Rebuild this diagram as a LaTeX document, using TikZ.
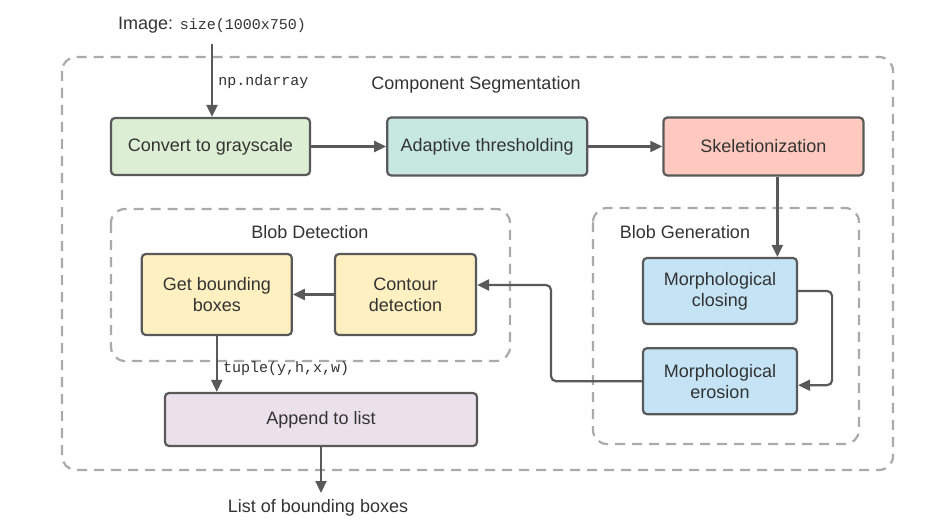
\documentclass[tikz,border=0pt]{standalone}
\usepackage{fontspec}
\setmainfont{Liberation Sans}
\setmonofont{Liberation Mono}
\usepackage{xcolor}
\usetikzlibrary{arrows.meta, positioning}

\definecolor{linegray}{HTML}{595959}
\definecolor{dashgray}{HTML}{AAAAAA}
\definecolor{txtgray}{HTML}{333333}
\definecolor{greenbox}{HTML}{DCEED3}
\definecolor{tealbox}{HTML}{C7E8E0}
\definecolor{redbox}{HTML}{FFC9BF}
\definecolor{yellowbox}{HTML}{FFF0C2}
\definecolor{bluebox}{HTML}{C4E3F4}
\definecolor{pinkbox}{HTML}{EBE1EB}

\begin{document}
\begin{tikzpicture}[
    x=1pt, y=-1pt,
    node distance=75pt,
    block/.style={rectangle, draw=linegray, line width=2.2pt, rounded corners=4pt, text=txtgray, font=\fontsize{18}{21}\selectfont, align=center, inner sep=0pt},
    group/.style={draw=dashgray, line width=2.2pt, dash pattern=on 10pt off 7pt, rounded corners=14pt},
    plaintext/.style={text=txtgray, font=\fontsize{18}{21}\selectfont},
    codetext/.style={text=txtgray, font=\ttfamily\fontsize{15}{17}\selectfont},
    arrow/.style={draw=linegray, line width=2.2pt, -{Triangle[length=12pt, width=11pt]}, rounded corners=5pt}
]
    \useasboundingbox (0,0) rectangle (943,524);

    % dashed groups
    \draw [group] (62,57) rectangle (893,470);
    \draw [group] (111,209) rectangle (510,361);
    \draw [group] (593,208) rectangle (859,444);

    \node (title) [plaintext] at (476,85) {Component Segmentation};
    \node (detlbl) [plaintext] at (310,232) {Blob Detection};
    \node (genlbl) [plaintext] at (685,232) {Blob Generation};

    % top row
    \node (conv) [block, fill=greenbox, minimum width=199pt, minimum height=57pt] at (210.5,146.5) {Convert to grayscale};
    \node (adapt) [block, fill=tealbox, minimum width=200pt, minimum height=58pt, right=75pt of conv] {Adaptive thresholding};
    \node (skel) [block, fill=redbox, minimum width=200pt, minimum height=58pt, right=74pt of adapt] {Skeletionization};

    % blob generation
    \node (close) [block, fill=bluebox, minimum width=154pt, minimum height=66pt] at (720,291) {Morphological\\closing};
    \node (erode) [block, fill=bluebox, minimum width=154pt, minimum height=66pt, below=22pt of close] {Morphological\\erosion};

    % blob detection
    \node (contour) [block, fill=yellowbox, minimum width=141pt, minimum height=81pt] at (405.5,294.5) {Contour\\detection};
    \node (getbb) [block, fill=yellowbox, minimum width=150pt, minimum height=81pt, left=41pt of contour] {Get bounding\\boxes};

    \node (append) [block, fill=pinkbox, minimum width=312pt, minimum height=53pt] at (321,419.5) {Append to list};

    % input / output
    \node (img) [plaintext, anchor=west, inner sep=0pt] at (118,25) {Image: {\ttfamily\fontsize{15}{17}\selectfont size(1000x750)}};
    \coordinate (imgin) at (212,44);
    \node (out) [plaintext] at (318,508) {List of bounding boxes};

    \draw [arrow] (imgin) -- node[codetext, anchor=west, xshift=2pt, yshift=-1pt] {np.ndarray} (imgin |- conv.north);
    \draw [arrow] (conv) -- (adapt);
    \draw [arrow] (adapt) -- (skel);
    \draw [arrow] ([xshift=14pt]skel.south) -- ([xshift=14pt]skel.south |- close.north);
    \draw [arrow] (close.east) -- ++(34,0) |- ([yshift=-4pt]erode.east);
    \draw [arrow] (erode.west) -| (551,285) -- ([yshift=9.5pt]contour.east);
    \draw [arrow] (contour) -- (getbb);
    \draw [arrow] (getbb.south) -- node[codetext, anchor=west, xshift=2pt, yshift=-5pt] {tuple(y,h,x,w)} (getbb.south |- append.north);
    \draw [arrow] (append.south) -- (append.south |- 0,493);
\end{tikzpicture}
\end{document}
